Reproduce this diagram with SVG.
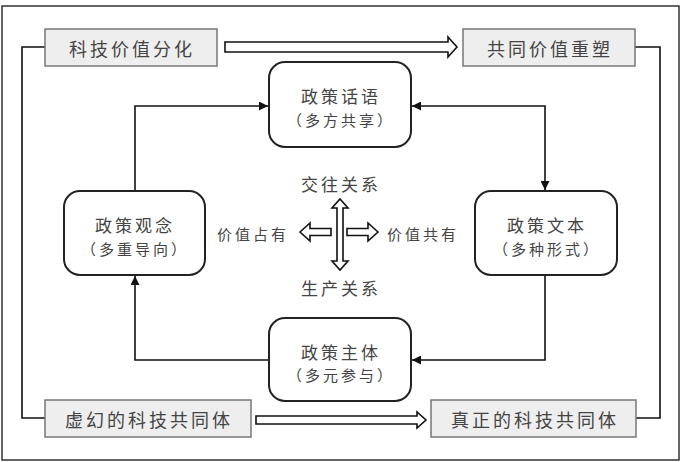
<svg xmlns="http://www.w3.org/2000/svg" width="681" height="462" viewBox="0 0 681 462">
<defs>
<style>
text{font-family:"Noto Sans CJK SC","Noto Sans CJK TC",sans-serif;fill:#444;text-anchor:middle;dominant-baseline:central}
.sq{fill:#eeeeee;stroke:#777;stroke-width:1.5}
.rd{fill:#fff;stroke:#222;stroke-width:2}
.t1{font-size:18px;letter-spacing:3px}
.t2{font-size:17px;letter-spacing:3px}
.t3{font-size:15px;letter-spacing:3px}
.ln{fill:none;stroke:#111;stroke-width:1.6}
.ho{fill:#fff;stroke:#111;stroke-width:1.6;stroke-linejoin:miter}
</style>
<marker id="ah" viewBox="0 0 10 10" refX="10" refY="5" markerWidth="9" markerHeight="9" markerUnits="userSpaceOnUse" orient="auto-start-reverse">
<path d="M0,0 L10,5 L0,10 z" fill="#111"/>
</marker>
</defs>
<rect x="0" y="0" width="681" height="462" fill="#fff"/>
<rect x="2" y="6" width="677" height="454" fill="none" stroke="#333" stroke-width="1.5"/>

<g id="connectors">
<polyline class="ln" points="45,47 22,47 22,418 45,418"/>
<polyline class="ln" points="635,47 660,47 660,418 636,418"/>
<polyline class="ln" points="135,191 135,106 268,106" marker-end="url(#ah)"/>
<polyline class="ln" points="412,106 545,106 545,190" marker-start="url(#ah)" marker-end="url(#ah)"/>
<polyline class="ln" points="545,275 545,360 412,360" marker-end="url(#ah)"/>
<polyline class="ln" points="269,360 135,360 135,276" marker-end="url(#ah)"/>
<polygon class="ho" points="225,42 448,42 448,37 457,47 448,57 448,52 225,52"/>
<polygon class="ho" points="256,416 417,416 417,412 426,420 417,428 417,424 256,424"/>
<polygon class="ho" points="340,199 348,208 343,208 343,261 348,261 340,270 332,261 337,261 337,208 332,208"/>
<polygon class="ho" points="300,232 310,223 310,228.5 331,228.5 331,235.5 310,235.5 310,241"/>
<polygon class="ho" points="378,232 368,223 368,228.5 347,228.5 347,235.5 368,235.5 368,241"/>
</g>

<g id="n-kjjzfh"><rect class="sq" x="45" y="29" width="172" height="37"/><text class="t1" x="132" y="47.5">科技价值分化</text></g>
<g id="n-gtjzcs"><rect class="sq" x="463" y="29" width="172" height="37"/><text class="t1" x="550" y="47.5">共同价值重塑</text></g>
<g id="n-xhkjgtt"><rect class="sq" x="45" y="400" width="206" height="37"/><text class="t1" x="149" y="418.5">虚幻的科技共同体</text></g>
<g id="n-zzkjgtt"><rect class="sq" x="431" y="400" width="205" height="37"/><text class="t1" x="535" y="418.5">真正的科技共同体</text></g>

<g id="n-zchy"><rect class="rd" x="269" y="62" width="142" height="85" rx="16"/><text class="t2" x="341" y="95">政策话语</text><text class="t3" x="341" y="119">（多方共享）</text></g>
<g id="n-zcwb"><rect class="rd" x="475" y="191" width="142" height="84" rx="16"/><text class="t2" x="547" y="224">政策文本</text><text class="t3" x="547" y="248">（多种形式）</text></g>
<g id="n-zcgn"><rect class="rd" x="64" y="191" width="141" height="84" rx="16"/><text class="t2" x="135" y="224">政策观念</text><text class="t3" x="135" y="248">（多重导向）</text></g>
<g id="n-zczt"><rect class="rd" x="269" y="318" width="142" height="83" rx="16"/><text class="t2" x="341" y="351">政策主体</text><text class="t3" x="341" y="374">（多元参与）</text></g>

<g id="center-labels">
<text class="t2" x="341" y="183">交往关系</text>
<text class="t2" x="341" y="287">生产关系</text>
<text class="t3" x="253" y="233">价值占有</text>
<text class="t3" x="423" y="233">价值共有</text>
</g>
</svg>
